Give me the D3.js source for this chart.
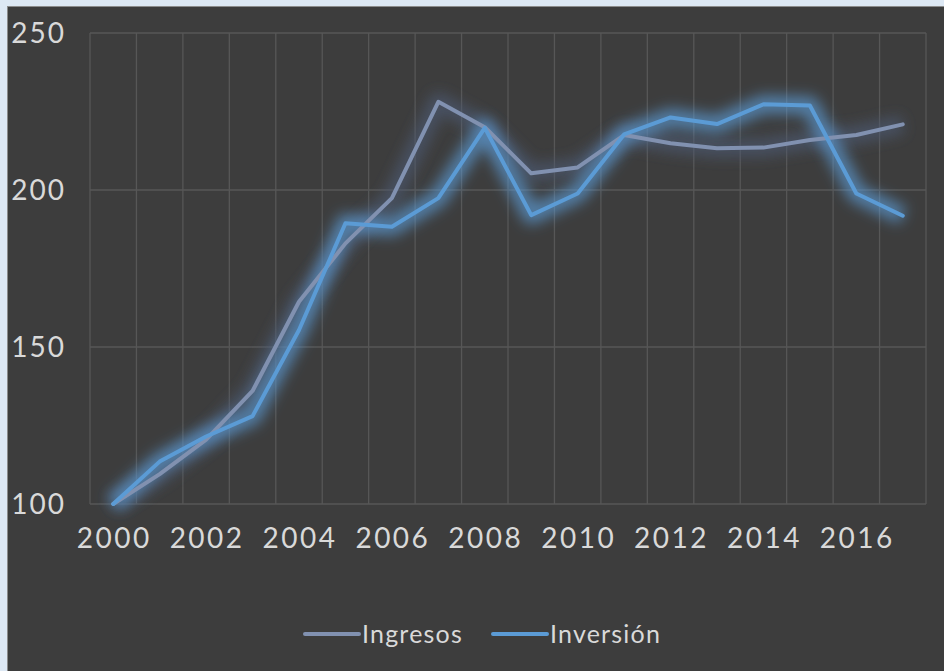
<!DOCTYPE html>
<html>
<head>
<meta charset="utf-8">
<script src="https://cdn.jsdelivr.net/npm/d3@7"></script>
<style>
  body { margin: 0; background: #dde8f4; }
  svg { display: block; }
</style>
</head>
<body>
<div id="chart"></div>
<script>
// data (index 2000 = 100)
const years = d3.range(2000, 2018);
const ingresos = [100, 109.5, 120.5, 136, 164.4, 183, 197.4, 228.1, 220, 205.3, 207.2, 217.5, 214.9, 213.3, 213.5, 215.9, 217.5, 220.9];
const inversion = [100, 113.5, 121.5, 128, 155.4, 189.4, 188.3, 197.4, 219.8, 192, 198.9, 217.7, 223.1, 221, 227.3, 226.9, 198.9, 191.8];
const yTicks = [100, 150, 200, 250];
const xLabels = [2000, 2002, 2004, 2006, 2008, 2010, 2012, 2014, 2016];

const series = [
    { name: 'Ingresos', values: ingresos, color: '#8191b0', glow: '#4c5a72' },
    { name: 'Inversión', values: inversion, color: '#5b9bd5', glow: '#5b9bd5' }
];

var width = 944, height = 671;
var margin = { top: 33, right: 18, bottom: 167, left: 90 };

var svg = d3.select('#chart').append('svg')
    .attr('width', width)
    .attr('height', height);

svg.append('rect')
    .attr('width', width).attr('height', height)
    .attr('fill', '#dde8f4');

// dark chart panel
svg.append('rect')
    .attr('x', 7.5).attr('y', 6.5)
    .attr('width', width - 7).attr('height', height - 6)
    .attr('fill', '#3d3d3d')
    .attr('stroke', '#8c8c8c')
    .attr('stroke-width', 1);

var defs = svg.append('defs');
var glow = defs.append('filter')
    .attr('id', 'glow')
    .attr('x', '-20%').attr('y', '-20%')
    .attr('width', '140%').attr('height', '140%');
glow.append('feGaussianBlur')
    .attr('in', 'SourceGraphic')
    .attr('stdDeviation', 7);

var x = d3.scaleBand()
    .domain(years)
    .range([margin.left, width - margin.right]);

var y = d3.scaleLinear()
    .domain([100, 250])
    .range([height - margin.bottom, margin.top]);

var g = svg.append('g');

// vertical grid lines at band edges
var edges = years.map(d => x(d)).concat([x(years[years.length - 1]) + x.bandwidth()]);
g.selectAll('line.vgrid')
    .data(edges)
    .enter().append('line')
    .attr('class', 'vgrid')
    .attr('x1', d => d).attr('x2', d => d)
    .attr('y1', y(250)).attr('y2', y(100))
    .attr('stroke', '#575757')
    .attr('stroke-width', 1.3);

// horizontal grid lines
g.selectAll('line.hgrid')
    .data(yTicks)
    .enter().append('line')
    .attr('class', 'hgrid')
    .attr('x1', margin.left).attr('x2', width - margin.right)
    .attr('y1', d => y(d)).attr('y2', d => y(d))
    .attr('stroke', '#575757')
    .attr('stroke-width', 1.3);

// y labels
g.selectAll('text.ylab')
    .data(yTicks)
    .enter().append('text')
    .attr('class', 'ylab')
    .attr('x', 66)
    .attr('y', d => y(d))
    .attr('dy', '0.36em')
    .attr('text-anchor', 'end')
    .attr('fill', '#d9d9d9')
    .style('font-family', 'Lato, sans-serif')
    .style('font-size', '28px')
    .style('letter-spacing', '2px')
    .text(d => d);

// x labels
g.selectAll('text.xlab')
    .data(xLabels)
    .enter().append('text')
    .attr('class', 'xlab')
    .attr('x', d => x(d) + x.bandwidth() / 2 + 1)
    .attr('y', 538)
    .attr('dy', '0.36em')
    .attr('text-anchor', 'middle')
    .attr('fill', '#d9d9d9')
    .style('font-family', 'Lato, sans-serif')
    .style('font-size', '28px')
    .style('letter-spacing', '2.5px')
    .text(d => d);

var line = d3.line()
    .x((d, i) => x(years[i]) + x.bandwidth() / 2)
    .y(d => y(d));

// glow layer
series.forEach(s => {
    g.append('path')
        .datum(s.values)
        .attr('d', line)
        .attr('fill', 'none')
        .attr('stroke', s.glow)
        .attr('stroke-opacity', 0.7)
        .attr('stroke-width', 18)
        .attr('stroke-linejoin', 'round')
        .attr('filter', 'url(#glow)');
});

series.forEach(s => {
    g.append('path')
        .datum(s.values)
        .attr('d', line)
        .attr('fill', 'none')
        .attr('stroke', s.color)
        .attr('stroke-width', 4)
        .attr('stroke-linejoin', 'round')
        .attr('stroke-linecap', 'round');
});

// legend
var legendItems = [
    { name: 'Ingresos', color: '#8191b0', x: 305 },
    { name: 'Inversión', color: '#5b9bd5', x: 493 }
];
var legend = svg.append('g');
legendItems.forEach(d => {
    legend.append('line')
        .attr('x1', d.x).attr('x2', d.x + 54)
        .attr('y1', 634).attr('y2', 634)
        .attr('stroke', d.color)
        .attr('stroke-width', 4)
        .attr('stroke-linecap', 'round');
    legend.append('text')
        .attr('x', d.x + 57)
        .attr('y', 634)
        .attr('dy', '0.36em')
        .attr('fill', '#d9d9d9')
        .style('font-family', 'Lato, sans-serif')
        .style('font-size', '25px')
        .style('letter-spacing', '1.2px')
        .text(d.name);
});
</script>
</body>
</html>
